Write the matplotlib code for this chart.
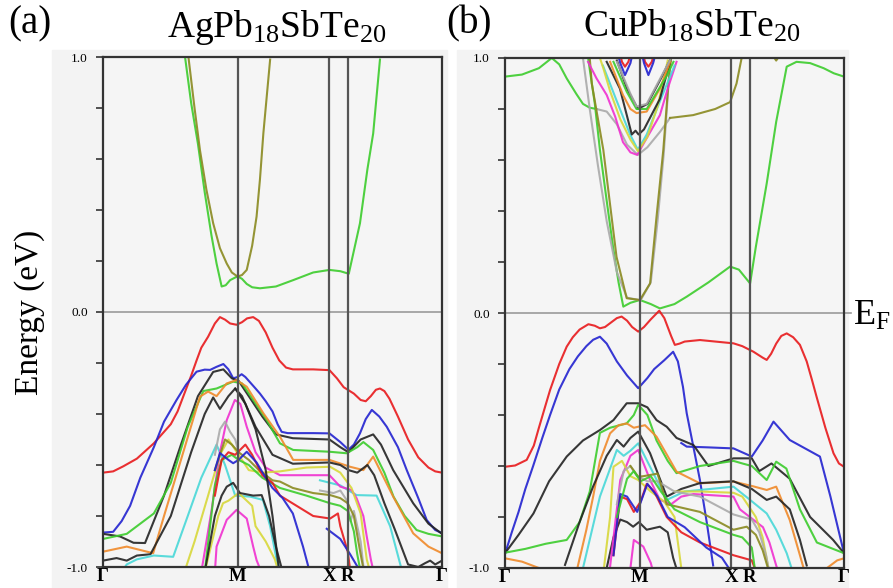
import matplotlib
matplotlib.use("Agg")
import matplotlib.pyplot as plt
from matplotlib.patches import Rectangle
from matplotlib.ticker import FixedLocator, FixedFormatter

plt.rcParams['font.family'] = ['Liberation Serif', 'DejaVu Serif']
plt.rcParams['mathtext.default'] = 'regular'

# high-symmetry points along the path (fraction of path length)
kpath_pos = [0.0, 0.398, 0.668, 0.722, 1.0]
kpath_labels = ['Γ', 'M', 'X', 'R', 'Γ']
titles = [r'AgPb$_{18}$SbTe$_{20}$', r'CuPb$_{18}$SbTe$_{20}$']
panel_tags = ['(a)', '(b)']

colors = {
    'red': '#e8191c', 'blue': '#2222d0', 'black': '#222222', 'green': '#3ccc2c',
    'orange': '#f08a2a', 'magenta': '#f030d0', 'cyan': '#48d8d8', 'yellow': '#d8d83a',
    'gray': '#aaaaaa', 'olive': '#8a8a20',
}

# ---------------- panel (a): AgPb18SbTe20 ----------------
a_bands = [
    ('red', [0, .03, .06, .10, .15, .20, .22, .24, .26, .276, .29, .31, .33, .345, .36, .375, .394, .41, .425, .443, .46, .48, .50, .52, .54, .56, .62, .668, .69, .71, .722, .74, .76, .775, .79, .805, .817, .83, .845, .87, .90, .93, .96, .98, 1.0],
            [-.63, -.625, -.605, -.575, -.515, -.44, -.39, -.32, -.25, -.19, -.14, -.097, -.045, -.02, -.03, -.045, -.05, -.04, -.025, -.02, -.035, -.08, -.14, -.19, -.218, -.225, -.225, -.228, -.26, -.295, -.305, -.32, -.345, -.35, -.33, -.305, -.30, -.31, -.34, -.41, -.50, -.57, -.61, -.625, -.63]),
    ('blue', [0, .03, .055, .08, .11, .15, .18, .217, .245, .276, .30, .316, .335, .355, .37, .384, .397, .409, .42, .43, .45, .463, .48, .50, .515, .527, .545, .62, .668, .70, .724, .74, .758, .775, .793, .815, .837, .87, .896, .93, .955, .98, 1.0],
             [-.865, -.862, -.82, -.76, -.65, -.53, -.43, -.345, -.285, -.234, -.226, -.227, -.215, -.204, -.225, -.26, -.255, -.244, -.255, -.27, -.30, -.32, -.35, -.39, -.44, -.47, -.475, -.475, -.476, -.51, -.54, -.52, -.476, -.42, -.384, -.41, -.45, -.53, -.62, -.73, -.816, -.855, -.867]),
    ('black', [0, .05, .09, .124, .18, .23, .28, .325, .355, .38, .40, .43, .47, .51, .56, .668, .70, .724, .76, .797, .82, .856, .915, .96, 1.0],
              [-.87, -.88, -.905, -.906, -.72, -.52, -.33, -.235, -.225, -.26, -.27, -.33, -.41, -.48, -.495, -.50, -.53, -.55, -.50, -.48, -.52, -.62, -.75, -.83, -.87]),
    ('green', [0, .07, .15, .20, .25, .296, .335, .384, .41, .443, .483, .522, .561, .668, .719, .75, .768, .797, .83, .857, .89, .925, .96, 1.0],
              [-.89, -.87, -.79, -.67, -.45, -.31, -.30, -.273, -.28, -.345, -.424, -.515, -.541, -.548, -.554, -.53, -.51, -.541, -.63, -.724, -.80, -.855, -.87, -.88]),
    ('orange', [0, .07, .148, .18, .227, .286, .31, .335, .365, .394, .424, .473, .522, .561, .668, .729, .768, .797, .856, .915, .96, 1.0],
               [-.94, -.92, -.946, -.80, -.593, -.332, -.312, -.33, -.28, -.267, -.293, -.397, -.489, -.58, -.58, -.607, -.62, -.567, -.724, -.868, -.92, -.946]),
    ('black', [0, .04, .07, .10, .14, .20, .26, .30, .325, .345, .37, .39, .41, .45, .50, .56, .668, .70, .724, .75, .78, .80, .83, .86, .90, .93, .95, .965, .98, 1.0],
              [-.975, -.965, -.975, -.955, -.95, -.80, -.55, -.40, -.335, -.38, -.33, -.30, -.33, -.45, -.56, -.595, -.59, -.60, -.62, -.63, -.60, -.64, -.75, -.85, -.99, -1.0, -.985, -.975, -.99, -.975]),
    ('cyan', [.05, .07, .10, .15, .207, .25, .29, .335, .36, .39, .434, .472, .493, .512, .53],
             [-1.03, -.99, -.97, -.955, -.96, -.80, -.65, -.52, -.60, -.72, -.724, -.737, -.84, -.97, -1.05]),
    ('cyan', [.64, .70, .725, .748, .807, .847, .876, .885],
             [-.66, -.68, -.70, -.718, -.72, -.84, -.985, -1.03]),
    ('magenta', [.29, .32, .345, .365, .389, .405, .424, .45, .48, .522, .668, .70, .733, .748, .768, .778, .79, .80],
                [-1.02, -.78, -.55, -.424, -.345, -.36, -.45, -.55, -.61, -.64, -.64, -.685, -.698, -.73, -.80, -.88, -.97, -1.03]),
    ('magenta', [.33, .335, .365, .394, .424, .443, .453, .47],
                [-1.02, -.92, -.815, -.776, -.81, -.92, -.973, -1.03]),
    ('yellow', [.24, .27, .31, .345, .37, .40, .43, .47, .522, .60, .67, .70, .733, .76, .778, .79],
               [-1.02, -.90, -.72, -.56, -.50, -.56, -.62, -.63, -.625, -.61, -.607, -.63, -.69, -.79, -.97, -1.03]),
    ('yellow', [.30, .34, .354, .37, .40, .44, .45, .48, .507, .52],
               [-1.02, -.80, -.75, -.74, -.71, -.76, -.84, -.90, -.97, -1.03]),
    ('gray', [.33, .345, .36, .375, .39, .40],
             [-.56, -.46, -.43, -.47, -.50, -.55]),
    ('gray', [.64, .68, .70, .72, .73, .74, .76, .77],
             [-.70, -.71, -.70, -.74, -.82, -.78, -.90, -1.02]),
    ('olive', [.33, .36, .38, .40, .43, .46, .50, .522, .56, .62, .67, .70, .722, .74, .76, .77],
              [-.62, -.50, -.52, -.55, -.58, -.62, -.66, -.665, -.69, -.71, -.718, -.73, -.75, -.80, -.95, -1.02]),
    ('green', [.30, .33, .35, .38, .40, .43, .47, .522, .60, .67, .70, .722, .74, .75, .76],
              [-1.02, -.68, -.58, -.56, -.58, -.60, -.65, -.69, -.72, -.75, -.76, -.78, -.86, -.95, -1.02]),
    ('red', [.33, .35, .37, .39, .42, .44, .47, .50, .522, .62, .67, .693, .70, .722, .73],
            [-.72, -.58, -.55, -.56, -.52, -.56, -.64, -.67, -.72, -.80, -.81, -.79, -.84, -.94, -1.02]),
    ('blue', [.33, .345, .37, .384, .40, .424, .453, .48, .50, .53, .56, .59, .61],
             [-.62, -.553, -.58, -.593, -.58, -.548, -.59, -.65, -.69, -.73, -.79, -.92, -1.02]),
    ('blue', [.66, .70, .729, .76],
             [-.85, -.89, -.95, -1.02]),
    ('black', [.30, .33, .35, .365, .384, .404, .443, .468, .49, .51, .53],
              [-1.02, -.80, -.72, -.685, -.67, -.71, -.72, -.718, -.80, -.92, -1.02]),
    ('black', [.39, .42, .45, .48, .50, .52],
              [-.30, -.36, -.46, -.62, -.80, -1.02]),
    # conduction bands
    ('green', [.242, .26, .28, .30, .32, .335, .35, .362, .375, .397, .41, .424, .44, .463, .51, .561, .62, .668, .70, .725, .74, .758, .78, .797, .817],
              [1.0, .82, .66, .47, .30, .19, .10, .105, .125, .14, .13, .11, .097, .093, .10, .125, .155, .165, .16, .15, .24, .348, .56, .70, .99]),
    ('olive', [.252, .27, .286, .305, .325, .345, .365, .38, .397, .41, .424, .44, .453, .463, .473, .493],
              [1.0, .80, .635, .48, .348, .25, .19, .155, .139, .145, .165, .26, .374, .52, .70, .99]),
]

# ---------------- panel (b): CuPb18SbTe20 ----------------
b_bands = [
    ('red', [0, .03, .064, .085, .10, .12, .133, .16, .182, .20, .22, .246, .265, .28, .295, .31, .33, .344, .36, .375, .393, .41, .43, .455, .47, .49, .501, .515, .53, .575, .674, .70, .733, .76, .772, .785, .80, .815, .831, .85, .87, .89, .905, .919, .945, .969, .985, 1.0],
            [-.603, -.598, -.576, -.52, -.45, -.36, -.302, -.20, -.132, -.095, -.065, -.044, -.05, -.06, -.055, -.04, -.02, -.014, -.03, -.055, -.073, -.055, -.025, .009, -.02, -.09, -.125, -.12, -.112, -.106, -.119, -.13, -.152, -.175, -.184, -.16, -.12, -.09, -.08, -.095, -.125, -.19, -.26, -.328, -.45, -.55, -.59, -.603]),
    ('blue', [0, .02, .04, .06, .083, .11, .133, .16, .19, .215, .24, .26, .28, .30, .33, .36, .393, .42, .44, .47, .496, .51, .525, .536, .555, .575, .595, .614],
             [-.945, -.86, -.78, -.69, -.60, -.49, -.40, -.30, -.22, -.17, -.13, -.105, -.093, -.12, -.19, -.245, -.295, -.255, -.22, -.185, -.152, -.19, -.29, -.393, -.52, -.655, -.82, -.99]),
    ('blue', [.52, .536, .60, .674, .728, .76, .792, .84, .929, .96, 1.0],
             [-.51, -.524, -.527, -.531, -.563, -.50, -.426, -.498, -.563, -.72, -.942]),
    ('black', [0, .04, .084, .13, .182, .23, .28, .32, .359, .393, .42, .447, .477, .506, .556, .60, .674, .728, .75, .786, .84, .90, .968, 1.0],
              [-.942, -.87, -.786, -.66, -.563, -.50, -.459, -.42, -.354, -.354, -.37, -.42, -.446, -.49, -.518, -.60, -.57, -.57, -.62, -.59, -.65, -.80, -.89, -.942]),
    ('green', [0, .06, .12, .182, .22, .25, .28, .31, .359, .38, .393, .42, .447, .48, .506, .575, .674, .70, .728, .772, .80, .83, .87, .92, 1.0],
              [-.94, -.925, -.905, -.89, -.82, -.70, -.47, -.45, -.433, -.40, -.36, -.40, -.50, -.58, -.628, -.60, -.58, -.59, -.60, -.655, -.583, -.61, -.77, -.90, -.942]),
    ('orange', [.21, .24, .26, .28, .31, .335, .359, .38, .413, .447, .506, .575, .674, .733, .772, .80, .84, .87, .885],
               [-1.02, -.85, -.72, -.58, -.472, -.44, -.433, -.45, -.44, -.485, -.622, -.668, -.661, -.68, -.694, -.681, -.812, -.95, -1.02]),
    ('orange', [0, .05, .10, .13], [-.962, -.975, -1.0, -1.03]),
    ('orange', [.92, .95, .98, 1.0], [-1.03, -1.0, -.97, -.962]),
    ('black', [.177, .22, .26, .30, .33, .35, .37, .393, .428, .477, .52, .575, .674, .728, .772, .80, .84, .87, .89],
              [-.988, -.82, -.68, -.56, -.498, -.524, -.49, -.465, -.55, -.72, -.69, -.667, -.66, -.69, -.733, -.72, -.77, -.89, -.99]),
    ('black', [.30, .32, .34, .36, .378, .395, .418, .457, .48, .496, .51],
              [-1.0, -.88, -.81, -.82, -.838, -.82, -.85, -.838, -.86, -.96, -1.02]),
    ('cyan', [.231, .28, .33, .35, .37, .393, .428, .477, .53, .575, .674, .723, .772, .80, .831, .85],
             [-.995, -.72, -.537, -.56, -.54, -.511, -.603, -.733, -.70, -.694, -.681, -.733, -.786, -.85, -.942, -1.02]),
    ('magenta', [.31, .34, .37, .393, .428, .457, .49, .52, .556, .674, .693, .761, .78, .80, .81],
                [-.995, -.655, -.56, -.537, -.655, -.733, -.75, -.72, -.71, -.72, -.77, -.84, -.90, -.99, -1.03]),
    ('magenta', [.37, .38, .408, .43, .44], [-1.0, -.89, -.916, -.98, -1.03]),
    ('yellow', [.29, .31, .32, .345, .37, .393, .43, .47, .50, .52],
               [-1.02, -.80, -.603, -.58, -.64, -.655, -.70, -.74, -.80, -1.0]),
    ('yellow', [.50, .575, .674, .70, .74, .76, .78],
               [-.70, -.70, -.705, -.72, -.80, -.88, -1.02]),
    ('gray', [.33, .35, .37, .39, .42, .45, .50, .575, .674, .70, .728, .75, .77, .78],
             [-.75, -.62, -.60, -.64, -.66, -.66, -.70, -.72, -.79, -.80, -.81, -.86, -.95, -1.02]),
    ('olive', [.37, .393, .408, .45, .477, .575, .674, .713, .74, .76, .78],
              [-.60, -.642, -.64, -.63, -.75, -.78, -.85, -.838, -.87, -.93, -1.02]),
    ('red', [.32, .34, .36, .38, .40, .418, .44, .477, .52, .575, .674, .728, .745],
            [-.95, -.72, -.73, -.78, -.74, -.67, -.70, -.80, -.86, -.90, -.95, -.97, -1.03]),
    ('blue', [.32, .34, .36, .39, .42, .45, .48, .53, .594, .64, .67],
             [-.95, -.71, -.72, -.78, -.67, -.72, -.80, -.84, -.92, -.96, -1.02]),
    ('green', [.33, .36, .38, .40, .43, .46, .50, .575, .674, .70, .728, .74],
              [-.80, -.65, -.62, -.66, -.64, -.70, -.77, -.82, -.87, -.88, -.92, -1.03]),
    # conduction bands
    ('green', [.246, .265, .28, .30, .32, .335, .349, .37, .398, .43, .457, .50, .536, .60, .664, .69, .723, .74, .772, .80, .831, .86, .90, .94, .97, 1.0],
              [.992, .82, .64, .44, .247, .12, .025, .04, .051, .035, .018, .035, .064, .12, .182, .17, .116, .26, .508, .75, .966, .985, .98, .96, .94, .927]),
    ('green', [0, .05, .10, .138, .16, .182, .21, .23, .25, .27],
              [.927, .935, .96, 1.0, .975, .92, .86, .82, .805, .80]),
    ('gray', [.27, .30, .33, .36, .392, .42, .457, .487],
             [.80, .79, .74, .66, .62, .65, .71, .765]),
    ('olive', [.487, .555, .62, .664, .683, .698],
              [.765, .776, .80, .827, .90, 1.0]),
    ('gray', [.23, .25, .274, .30, .33, .36, .40, .43, .45, .468, .48, .487],
             [1.0, .80, .58, .36, .16, .06, .05, .12, .36, .62, .85, 1.0]),
    ('olive', [.25, .256, .29, .329, .359, .398, .428, .447, .467, .482, .49],
              [1.0, .90, .64, .22, .058, .051, .116, .378, .64, .90, 1.0]),
    ('magenta', [.245, .27, .30, .325, .348, .37, .39, .418, .457, .48, .506],
                [.985, .92, .855, .77, .67, .63, .62, .686, .776, .88, .985]),
    ('cyan', [.289, .33, .369, .392, .418, .46, .50],
             [.97, .83, .70, .64, .70, .84, .97]),
    ('yellow', [.28, .29, .31, .34, .37, .392, .42, .45, .48],
               [1.0, .96, .87, .76, .68, .635, .69, .81, .99]),
    ('black', [.30, .339, .374, .385, .394, .41, .457, .487],
              [.985, .88, .70, .715, .70, .72, .84, .985]),
    ('black', [.33, .36, .392, .42, .46, .49], [.99, .88, .80, .82, .92, 1.0]),
    ('orange', [.31, .348, .37, .388, .418, .457, .487],
               [.985, .855, .80, .784, .79, .88, .985]),
    ('green', [.32, .359, .388, .418, .477, .497], [.985, .868, .80, .80, .93, .985]),
    ('gray', [.33, .37, .388, .418, .47, .49], [.985, .86, .81, .82, .95, 1.0]),
    ('red', [.335, .345, .354, .364, .375], [1.04, .985, .966, .985, 1.04]),
    ('red', [.403, .413, .423, .433, .445], [1.04, .985, .966, .985, 1.04]),
    ('blue', [.33, .34, .354, .37, .38], [1.03, .98, .933, .98, 1.04]),
    ('blue', [.40, .41, .423, .437, .447], [1.04, .98, .933, .98, 1.03]),
    ('olive', [.785, .80, .815], [1.02, .99, 1.02]),
]

fig = plt.figure(figsize=(8.93, 5.88), dpi=100)
fig.patch.set_facecolor('white')
for x0, x1 in [(52, 447), (457, 848)]:
    fig.patches.append(Rectangle((x0 / 893, 0), (x1 - x0) / 893, 538 / 588,
                                 transform=fig.transFigure, color='#f3f3f3', zorder=-10))

axes = [fig.add_axes([103 / 893, 21 / 588, 339 / 893, 510 / 588]),
        fig.add_axes([505 / 893, 20 / 588, 339 / 893, 510 / 588])]

yt = [round(-1 + 0.2 * i, 1) for i in range(11)]
ytl = ['-1.0' if v == -1 else '0.0' if v == 0 else '1.0' if v == 1 else '' for v in yt]

for ax, bands in zip(axes, [a_bands, b_bands]):
    ax.set_facecolor('#f5f5f5')
    for key, k, e in bands:
        ax.plot(k, e, color=colors[key], lw=1.5, alpha=0.9, solid_joinstyle='round', zorder=3)
    for kp in kpath_pos[1:4]:
        ax.axvline(kp, color='#555555', lw=1.6, zorder=4)
    ax.axhline(0, color='#9a9a9a', lw=1.2, zorder=2)
    ax.set_xlim(0, 1)
    ax.set_ylim(-1, 1)
    ax.yaxis.set_major_locator(FixedLocator(yt))
    ax.yaxis.set_major_formatter(FixedFormatter(ytl))
    ax.tick_params(axis='y', direction='out', length=5, width=1.2, color='#333333',
                   labelsize=9.5, pad=6)
    ax.set_xticks(kpath_pos)
    ax.set_xticklabels(kpath_labels, fontsize=13.5, fontweight='bold')
    ax.tick_params(axis='x', length=0, pad=1)
    for sp in ax.spines.values():
        sp.set_color('#333333')
        sp.set_linewidth(1.6)
        sp.set_zorder(5)

# extend the Fermi level line toward the E_F label
axes[1].plot([1.0, 1.02], [0, 0], color='#9a9a9a', lw=1.2, clip_on=False)

fig.text(30 / 893, 1 - 24 / 588, panel_tags[0], ha='center', va='center', fontsize=28)
fig.text(469 / 893, 1 - 24 / 588, panel_tags[1], ha='center', va='center', fontsize=28)
fig.text(277 / 893, 1 - 37 / 588, titles[0], ha='center', va='baseline', fontsize=27)
fig.text(692 / 893, 1 - 37 / 588, titles[1], ha='center', va='baseline', fontsize=27)
fig.text(30 / 893, 1 - 312 / 588, 'Energy (eV)', rotation=90, ha='center', va='center', fontsize=24)
fig.text(853 / 893, 1 - 316 / 588, r'E$_F$', ha='left', va='center', fontsize=26)

fig.savefig('out.png', dpi=100)
